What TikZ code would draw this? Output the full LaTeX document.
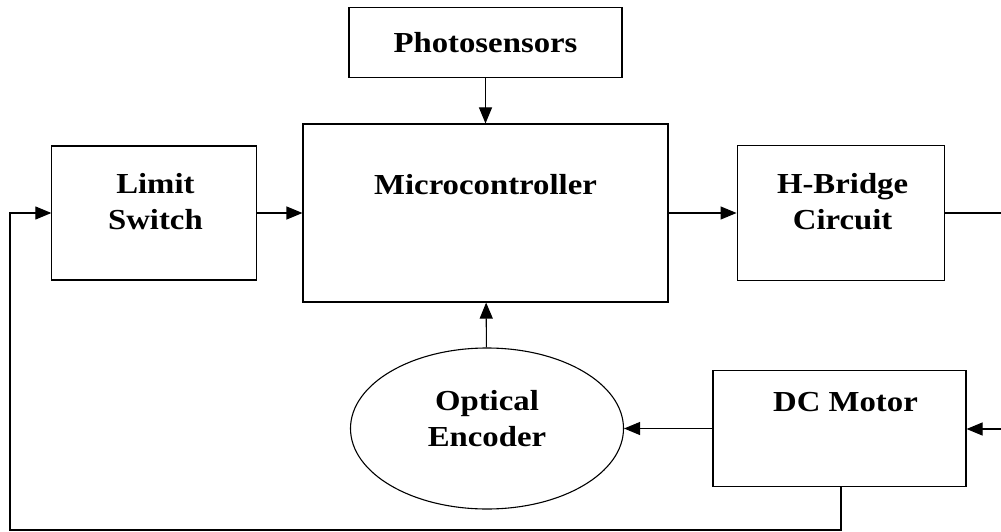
\documentclass[tikz,border=0pt]{standalone}
\usepackage{fontspec}
\setmainfont{Liberation Serif}[FakeStretch=1.13]
\usetikzlibrary{positioning,arrows.meta,shapes.geometric}

\begin{document}
\begin{tikzpicture}[x=1pt, y=-1pt, line width=1.1pt,
	box/.style={draw, rectangle, inner sep=0pt},
	txt/.style={font=\bfseries\fontsize{29}{36}\selectfont, align=center, inner sep=0pt},
	>={Triangle[length=16pt, width=13pt]}]
	\useasboundingbox (0,0) rectangle (1001,532);
	\begin{scope}[node distance=45pt and 45pt]
	\node (mcu) [box, minimum width=365pt, minimum height=178pt] at (485.5,213) {};
	\node (photo) [box, above=of mcu, minimum width=273pt, minimum height=70pt] {};
	\node (limit) [box, left=of mcu, minimum width=205pt, minimum height=134pt] {};
	\node (hb) [box, right=68pt of mcu, minimum width=207pt, minimum height=135pt] {};
	\node (motor) [box, minimum width=253pt, minimum height=116pt] at (839.5,428.5) {};
	\node (enc) [draw, ellipse, inner sep=0pt, minimum width=273pt, minimum height=161pt] at (487,428.5) {};
	\end{scope}

	% texts
	\node (photot) [txt] at (photo.center) {Photosensors};
	\node (mcut) [txt] at ([yshift=28pt]mcu.center) {Microcontroller};
	\node (limitt) [txt] at ([xshift=1pt, yshift=11pt]limit.center) {Limit\\Switch};
	\node (hbt) [txt] at ([xshift=2pt, yshift=11pt]hb.center) {H-Bridge\\Circuit};
	\node (motort) [txt] at ([xshift=6pt, yshift=26pt]motor.center) {DC Motor};
	\node (enct) [txt] at ([yshift=10pt]enc.center) {Optical\\Encoder};

	\coordinate (hbout) at (1001,213);
	\coordinate (motorin) at (1001,429);
	\coordinate (fbleft) at (10,530);

	\draw [->] (photo) -- (mcu);
	\draw [->] (limit) -- (mcu.west |- limit);
	\draw [->] (mcu.east |- hb) -- (hb);
	\draw (hb.east) -- (hbout);
	\draw [->] (motorin) -- (motor.east |- motorin);
	\draw [->] (motor.west) -- (enc.east);
	\draw [->] (enc) -- (mcu);
	\draw [->] ([xshift=1.5pt]motor.south) |- (fbleft) |- (limit.west);
\end{tikzpicture}
\end{document}
